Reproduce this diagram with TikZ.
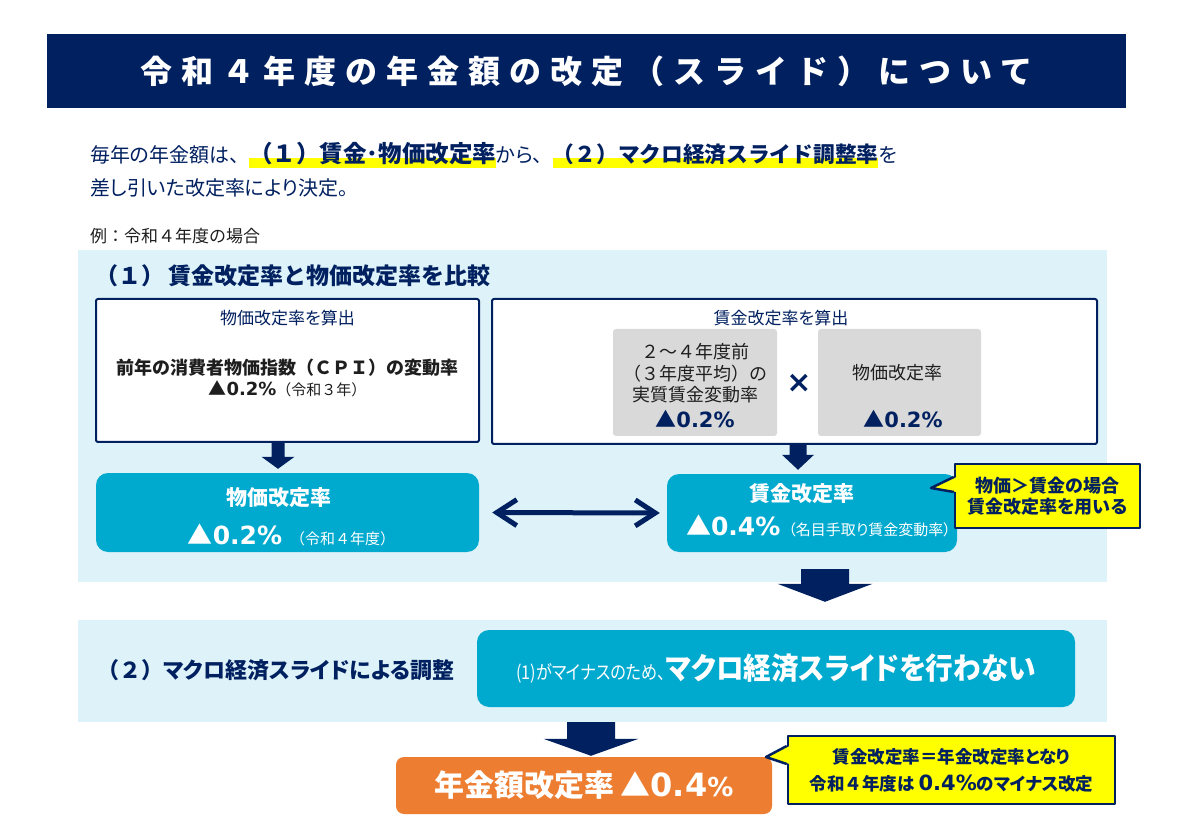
\documentclass[tikz,border=0pt]{standalone}
\usepackage{fontspec}
\usepackage{graphicx}
\setmainfont{Noto Sans CJK JP}[RawFeature=+palt]
\newfontfamily\fullfont{Noto Sans CJK JP}
\newfontfamily\titlefont{Noto Sans CJK JP}[LetterSpace=28]
\newfontfamily\latfont{DejaVu Sans}
\usetikzlibrary{calc,arrows.meta}
\definecolor{navy}{RGB}{0,32,96}
\definecolor{paleblue}{RGB}{222,243,249}
\definecolor{tealbox}{RGB}{0,169,206}
\definecolor{boxgrey}{RGB}{217,217,217}
\definecolor{orangebox}{RGB}{237,125,49}
\definecolor{hlyellow}{RGB}{255,255,0}
\definecolor{textgrey}{RGB}{30,30,30}
\newcommand{\sz}[2]{\fontsize{#1}{#2}\selectfont}
\newsavebox{\hlbox}
\newcommand{\hlt}[1]{\sbox{\hlbox}{#1}\rlap{\textcolor{hlyellow}{\rule[-5.5pt]{\wd\hlbox}{10pt}}}\usebox{\hlbox}}
% block arrow: x, from, to, shaft half width, head half width, head length, gap above to, shift below from
\newcommand{\blockdown}[8]{%
  \path (#1,0) coordinate (bx);
  \coordinate (bt) at ($(bx |- #2)+(0,#8)$);
  \coordinate (bb) at ($(bx |- #3)+(0,-#7)$);
  \fill[navy] ($(bt)+(-#4,0)$) -- ($(bt)+(#4,0)$) -- ($(bb)+(#4,-#6)$) -- ($(bb)+(#5,-#6)$)
    -- (bb) -- ($(bb)+(-#5,-#6)$) -- ($(bb)+(-#4,-#6)$) -- cycle;}
\begin{document}
\begin{tikzpicture}[x=1pt,y=-1pt,line join=round,
  titlebar/.style={fill=navy,text=white,minimum width=1079,minimum height=74,inner sep=0},
  secbg/.style={fill=paleblue,minimum width=1029,inner sep=0},
  calcbox/.style={draw=navy,line width=2,fill=white,rounded corners=2,inner sep=0},
  greybox/.style={fill=boxgrey,rounded corners=3,minimum width=164,minimum height=107,inner sep=0},
  resultbox/.style={fill=tealbox,rounded corners=12,inner sep=0,text=white},
  boxtitle/.style={text=navy,font=\sz{17}{20}},
  callbox/.style={fill=hlyellow,draw=navy,line width=2.5,text=navy,align=center,inner sep=0},
  heading/.style={text=navy,font=\bfseries\sz{22}{26},anchor=base west,inner sep=0},
  >={Straight Barb[length=20pt,width=26pt]}]
\fill[white] (0,0) rectangle (1179,834);
\useasboundingbox (0,0) rectangle (1179,834);
% title and lead text
\node[titlebar] (title) at (586.5,71) {\titlefont\bfseries\sz{32}{36}令和４年度の年金額の改定（スライド）について};
\node[anchor=base west,inner sep=0,text=navy,font=\sz{20}{24}] (intro1) at (90,163)
  {毎年の年金額は{\fullfont 、}\hlt{\fullfont\bfseries\sz{23.5}{26}（１）賃金･物価改定率}から{\fullfont 、}\hlt{\fullfont\bfseries\sz{21.7}{26}（２）マクロ経済スライド調整率}を};
\node[anchor=base west,inner sep=0,text=navy,font=\sz{20}{24}] (intro2) at (90,196) {差し引いた改定率により決定。};
\node[anchor=base west,inner sep=0,text=textgrey,font=\fullfont\sz{17}{20}] (example) at (90,243) {例：令和４年度の場合};
% (1)
\node[secbg,minimum height=332] (sec1) at (592.5,416) {};
\node[heading,font=\fullfont\bfseries\sz{23}{26}] (head1) at (95,285) {（１）\hspace{4pt}賃金改定率と物価改定率を比較};
\node[calcbox,minimum width=383,minimum height=143] (pbox) at (287.5,370.5) {};
\node[boxtitle] (ptitle) at (287.5,318) {物価改定率を算出};
\node[align=center,text=textgrey,font=\sz{18}{21}] (pcpi) at (287.5,378)
  {{\fullfont\bfseries 前年の消費者物価指数（ＣＰＩ）の変動率}\\{\bfseries ▲}{\latfont\bfseries 0.2\%}{\fullfont\sz{15}{18}（令和３年）}};
\node[calcbox,minimum width=605,minimum height=145] (wbox) at (794.5,371.5) {};
\node[boxtitle] (wtitle) at (781,318) {賃金改定率を算出};
\node[greybox] (real) at (695,382.5) {};
\node[align=center,text=textgrey,font=\fullfont\sz{18}{21.5}] (realtxt) at (695,373.5) {２～４年度前\\（３年度平均）の\\実質賃金変動率};
\node[text=navy,font=\bfseries\sz{21}{25}] (realval) at (695,419) {▲{\latfont 0.2\%}};
\node[text=navy,font=\latfont\bfseries\sz{30}{36}] (times) at (799,383) {×};
\node[greybox,minimum width=163] (cpi) at (899.5,382.5) {};
\node[text=textgrey,font=\sz{18}{21}] (cpitxt) at (897,373) {物価改定率};
\node[text=navy,font=\bfseries\sz{21}{25}] (cpival) at (903,419) {▲{\latfont 0.2\%}};
\node[resultbox,minimum width=383,minimum height=79] (pteal) at (287.5,512.5) {};
\node[text=white,font=\bfseries\sz{21}{25}] (ptealtitle) at (279,498) {物価改定率};
\node[anchor=base,text=white,inner sep=0] (ptealval) at (291.5,544)
  {{\bfseries\sz{25}{30}▲{\latfont 0.2\%}}\hspace{8pt}{\fullfont\sz{15}{18}（令和４年度）}};
\node[resultbox,minimum width=290,minimum height=78] (wteal) at (812,513) {};
\node[text=white,font=\bfseries\sz{21}{25}] (wtealtitle) at (802,494) {賃金改定率};
\node[anchor=base,text=white,inner sep=0] (wtealval) at (818.5,535)
  {{\bfseries\sz{25}{30}▲{\latfont 0.4\%}}\hspace{8pt}{\sz{15}{18}（名目手取り賃金変動率）}};
\draw[<->,navy,line width=5,shorten <=13,shorten >=7] (pteal.east) -- (wteal.west);
\blockdown{278}{pbox.south}{pteal.north}{6.5}{16.5}{12}{4}{0}
\blockdown{798}{wbox.south}{wteal.north}{8.5}{16}{15}{4}{0}
\node[callbox,font=\bfseries\sz{18}{21},minimum width=185,minimum height=64] (note1) at (1047.5,496)
  {物価＞賃金の場合\\賃金改定率を用いる};
\coordinate (tip1) at (931,488);
\fill[hlyellow] ($(note1.west)+(3,-19)$) -- (tip1) -- ($(note1.west)+(3,-4)$) -- cycle;
\draw[navy,line width=2.5] ($(note1.west)+(0,-19)$) -- (tip1) -- ($(note1.west)+(0,-4)$);
% (2)
\node[secbg,minimum height=102] (sec2) at (592.5,671) {};
\blockdown{825}{wteal.south}{sec2.north}{24}{47.5}{18}{18}{17}
\node[heading] (head2) at (97,678) {{\fullfont（２）}マクロ経済スライドによる調整};
\node[resultbox,minimum width=598,minimum height=77] (macro) at (776,668.5)
  {\scalebox{0.85}[1]{\sz{19}{22}(1)がマイナスのため、}\scalebox{0.92}[1]{\bfseries\sz{30}{34}マクロ経済スライドを行わない}};
% result
\node[fill=orangebox,rounded corners=8,minimum width=376,minimum height=57,text=white,inner sep=0] (pension) at (584,785.5)
  {{\bfseries\sz{30}{34}年金額改定率\hspace{6pt}▲}{\latfont\bfseries\sz{32}{36}0.4}{\latfont\bfseries\sz{26}{30}\%}};
\blockdown{591}{sec2.south}{pension.north}{24}{47.5}{17}{1}{0}
\node[callbox,font=\bfseries\sz{17.5}{27},minimum width=327,minimum height=68] (note2) at (951.5,770)
  {賃金改定率＝年金改定率となり\\{\fullfont 令和４年度は} {\latfont\sz{21}{25}0.4\%}のマイナス改定};
\coordinate (tip2) at (766,757);
\fill[hlyellow] ($(note2.west)+(3,-24)$) -- (tip2) -- ($(note2.west)+(3,-6)$) -- cycle;
\draw[navy,line width=2.5] ($(note2.west)+(0,-24)$) -- (tip2) -- ($(note2.west)+(0,-6)$);
\end{tikzpicture}
\end{document}
